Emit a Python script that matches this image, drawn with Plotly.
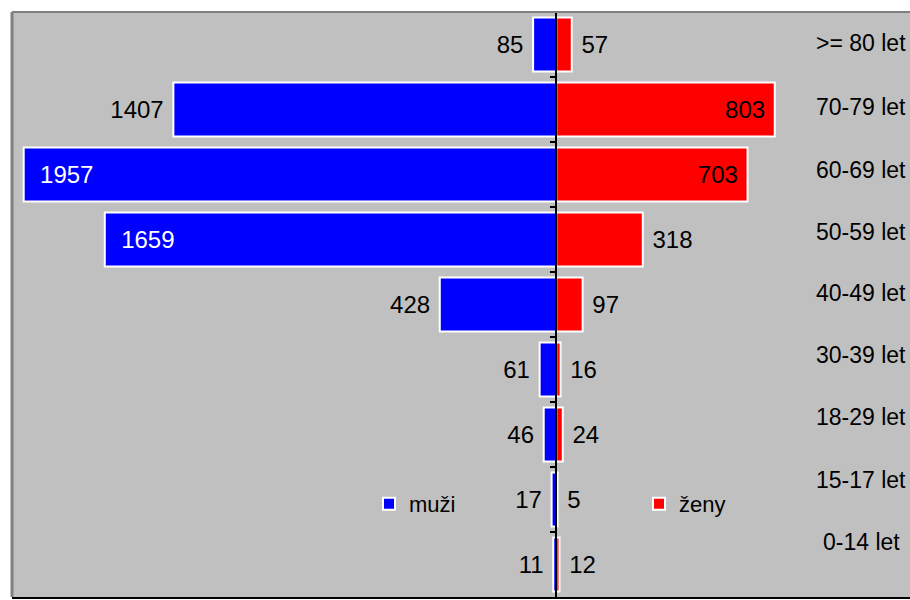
import plotly.graph_objects as go

age_groups = [">= 80 let", "70-79 let", "60-69 let", "50-59 let", "40-49 let",
              "30-39 let", "18-29 let", "15-17 let", "0-14 let"]
muzi = [85, 1407, 1957, 1659, 428, 61, 46, 17, 11]
zeny = [57, 803, 703, 318, 97, 16, 24, 5, 12]
muzi_textpos = ["outside", "outside", "inside", "inside", "outside",
                "outside", "outside", "outside", "outside"]
zeny_textpos = ["outside", "inside", "inside", "outside", "outside",
                "outside", "outside", "outside", "outside"]

FONT = "Liberation Sans, Arial, sans-serif"
FS = 24
NB = "\u00a0"


def muzi_label(v, pos):
    return (NB * 2 + str(v)) if pos == "inside" else (str(v) + NB)


def zeny_label(v, pos):
    return (str(v) + NB) if pos == "inside" else (NB + str(v))


fig = go.Figure()
fig.add_trace(go.Bar(
    y=age_groups, x=[-v for v in muzi], orientation="h", name="muži",
    marker=dict(color="#0000FF", line=dict(color="white", width=2)),
    text=[muzi_label(v, p) for v, p in zip(muzi, muzi_textpos)],
    textposition=muzi_textpos,
    insidetextanchor="end",
    insidetextfont=dict(color="white", size=FS, family=FONT),
    outsidetextfont=dict(color="black", size=FS, family=FONT),
    constraintext="none", cliponaxis=False, hoverinfo="skip",
))
fig.add_trace(go.Bar(
    y=age_groups, x=zeny, orientation="h", name="ženy",
    marker=dict(color="#FF0000", line=dict(color="white", width=2)),
    text=[zeny_label(v, p) for v, p in zip(zeny, zeny_textpos)],
    textposition=zeny_textpos,
    insidetextanchor="end",
    insidetextfont=dict(color="black", size=FS, family=FONT),
    outsidetextfont=dict(color="black", size=FS, family=FONT),
    constraintext="none", cliponaxis=False, hoverinfo="skip",
))

xmin, xmax = -2000, 1300
# right-hand category labels (slightly offset from the bar centres, as in the original)
label_px = [43, 107, 170, 232, 293, 355, 417, 480, 542]
top_px, bot_px = 12, 597
for lab, ypx in zip(age_groups, label_px):
    fig.add_annotation(text=lab, xref="paper", yref="paper",
                       x=(861 - 12) / 898, y=(bot_px - ypx) / (bot_px - top_px),
                       xanchor="center", yanchor="middle", showarrow=False,
                       font=dict(size=FS - 1, color="black", family=FONT))

fig.update_layout(
    width=910, height=600,
    margin=dict(l=12, r=0, t=12, b=3, autoexpand=False),
    paper_bgcolor="white", plot_bgcolor="#C0C0C0",
    barmode="overlay", bargap=0.17,
    font=dict(family=FONT, size=FS, color="black"),
    showlegend=True,
    legend=dict(orientation="h", x=(369 - 12) / 898, y=(597 - 504) / 585,
                xanchor="left", yanchor="middle", bgcolor="rgba(0,0,0,0)",
                entrywidth=225, entrywidthmode="pixels",
                font=dict(size=FS - 2, family=FONT, color="black"),
                traceorder="normal"),
    xaxis=dict(range=[xmin, xmax], showgrid=False, zeroline=False,
               showticklabels=False, ticks="", showline=True,
               linecolor="black", linewidth=2, mirror=False, fixedrange=True),
    yaxis=dict(autorange="reversed", anchor="free",
               position=(0 - xmin) / (xmax - xmin),
               showline=True, linecolor="black", linewidth=2,
               ticks="outside", tickson="boundaries", ticklen=5,
               tickcolor="black", tickwidth=2,
               showticklabels=False, showgrid=False, fixedrange=True),
    shapes=[
        dict(type="line", xref="paper", yref="paper", x0=0, x1=0, y0=0, y1=1,
             line=dict(color="#808080", width=3)),
        dict(type="line", xref="paper", yref="paper", x0=0, x1=1, y0=1, y1=1,
             line=dict(color="#808080", width=2)),
    ],
)

fig.write_html("out.html",
               config={"displayModeBar": False},
               post_script="document.body.style.margin='0';"
                           "document.body.style.overflow='hidden';")
